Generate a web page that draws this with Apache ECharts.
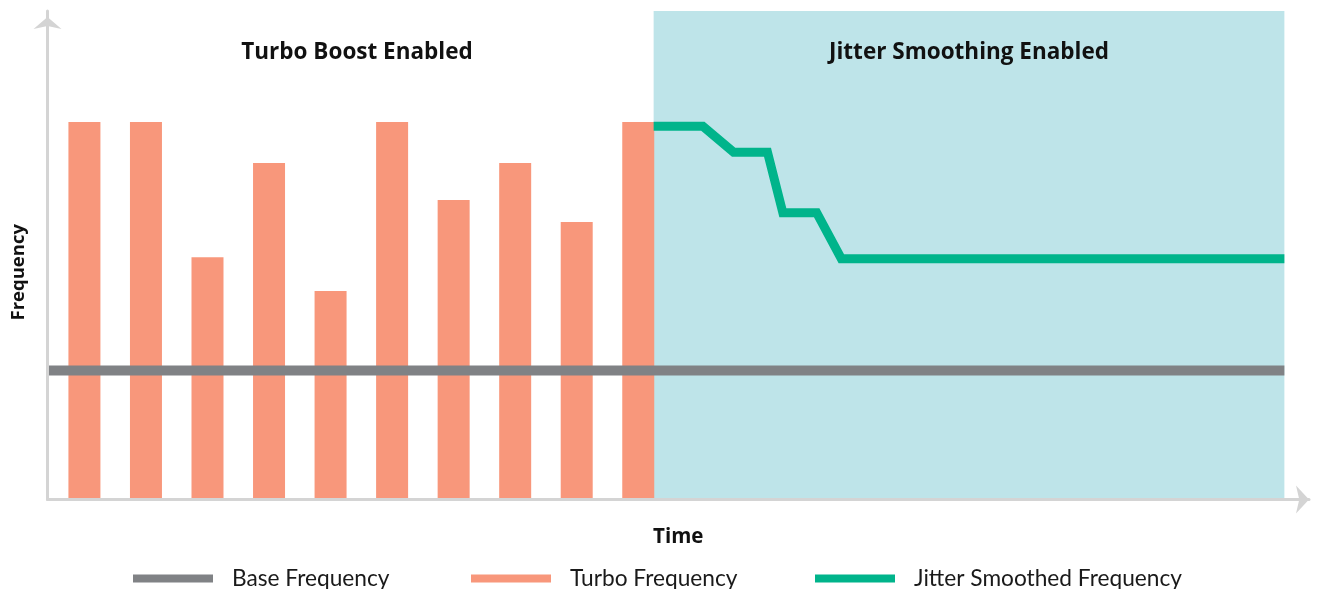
<!DOCTYPE html>
<html>
<head>
<meta charset="utf-8">
<script src="https://cdn.jsdelivr.net/npm/echarts@6/dist/echarts.min.js"></script>
<style>html,body{margin:0;padding:0;background:#fff}#c{width:1320px;height:589px}</style>
</head>
<body>
<div id="c"></div>
<script>
// Time positions of the turbo bars and their frequencies
const barTimes = [0.6, 1.6, 2.6, 3.6, 4.6, 5.6, 6.6, 7.6, 8.6, 9.6];
const turboFreq = [77.3, 77.3, 49.6, 68.9, 42.7, 77.3, 61.3, 68.9, 56.8, 77.3];
// Base frequency (flat)
const baseTimes = [0, 20.1];
const baseFreq = [26.4, 26.4];
// Jitter smoothed frequency (stepped)
const jitterTimes = [9.85, 10.65, 11.15, 11.7, 11.95, 12.5, 12.9, 20.1];
const jitterFreq = [76.4, 76.4, 71.1, 71.1, 58.7, 58.7, 49.3, 49.3];
// Region boundaries
const jitterRegion = [9.85, 20.1];
const regionLabels = ['Turbo Boost Enabled', 'Jitter Smoothing Enabled'];
const seriesNames = ['Base Frequency', 'Turbo Frequency', 'Jitter Smoothed Frequency'];

const zip = (a, b) => a.map((v, i) => [v, b[i]]);
const BOLD = 'Open Sans';
const REG = 'Lato';

const chart = echarts.init(document.getElementById('c'));
const legendCommon = {
  top: 567, padding: 0, icon: 'rect', itemWidth: 80, itemHeight: 8,
  textStyle: { fontFamily: REG, fontSize: 22.7, color: '#1a1a1a', padding: [0, 0, 0, 14] },
  selectedMode: false
};
chart.setOption({
  animation: false,
  grid: { left: 47.5, right: 11, top: 11, bottom: 89.5, outerBoundsMode: 'none', containLabel: false },
  xAxis: {
    type: 'value', min: 0, max: 20.5, z: 10,
    name: 'Time', nameLocation: 'middle', nameGap: 27,
    nameTextStyle: { fontFamily: BOLD, fontWeight: 'bold', fontSize: 20.5, color: '#111' },
    axisLine: { show: true, lineStyle: { color: '#d4d4d4', width: 3 }, symbol: ['none', 'arrow'], symbolSize: [21, 13], symbolOffset: [0, 0] },
    axisTick: { show: false }, axisLabel: { show: false }, splitLine: { show: false }
  },
  yAxis: {
    type: 'value', min: 0, max: 100, z: 10,
    name: 'Frequency', nameLocation: 'middle', nameGap: 19, nameRotate: 90,
    nameTextStyle: { fontFamily: BOLD, fontWeight: 'bold', fontSize: 18.5, color: '#111', padding: [0, 34, 0, 0] },
    axisLine: { show: true, lineStyle: { color: '#d4d4d4', width: 3 }, symbol: ['none', 'arrow'], symbolSize: [21, 12], symbolOffset: [0, -6] },
    axisTick: { show: false }, axisLabel: { show: false }, splitLine: { show: false }
  },
  legend: [
    Object.assign({ left: 133, data: [seriesNames[0]] }, legendCommon),
    Object.assign({ left: 471, data: [seriesNames[1]] }, legendCommon),
    Object.assign({ left: 815, data: [seriesNames[2]] }, legendCommon)
  ],
  graphic: [
    { type: 'text', z: 100, x: 357, y: 53, style: { text: regionLabels[0], fontFamily: BOLD, fontWeight: 'bold', fontSize: 22.5, fill: '#111', textAlign: 'center', textVerticalAlign: 'middle' } },
    { type: 'text', z: 100, x: 969, y: 53, style: { text: regionLabels[1], fontFamily: BOLD, fontWeight: 'bold', fontSize: 22.5, fill: '#111', textAlign: 'center', textVerticalAlign: 'middle' } }
  ],
  series: [
    {
      name: seriesNames[1], type: 'bar', barWidth: 32, z: 2,
      itemStyle: { color: '#F8977B' }, color: '#F8977B',
      data: zip(barTimes, turboFreq),
      markArea: {
        silent: true,
        itemStyle: { color: '#BEE4E9' },
        data: [[{ xAxis: jitterRegion[0], yAxis: 0 }, { xAxis: jitterRegion[1], yAxis: 100 }]]
      }
    },
    {
      name: seriesNames[0], type: 'line', z: 3, symbol: 'none', color: '#808285',
      lineStyle: { color: '#808285', width: 10 }, itemStyle: { color: '#808285' },
      data: zip(baseTimes, baseFreq)
    },
    {
      name: seriesNames[2], type: 'line', z: 4, symbol: 'none', color: '#00B48B',
      lineStyle: { color: '#00B48B', width: 9, join: 'miter' }, itemStyle: { color: '#00B48B' },
      data: zip(jitterTimes, jitterFreq)
    }
  ]
});
</script>
</body>
</html>
